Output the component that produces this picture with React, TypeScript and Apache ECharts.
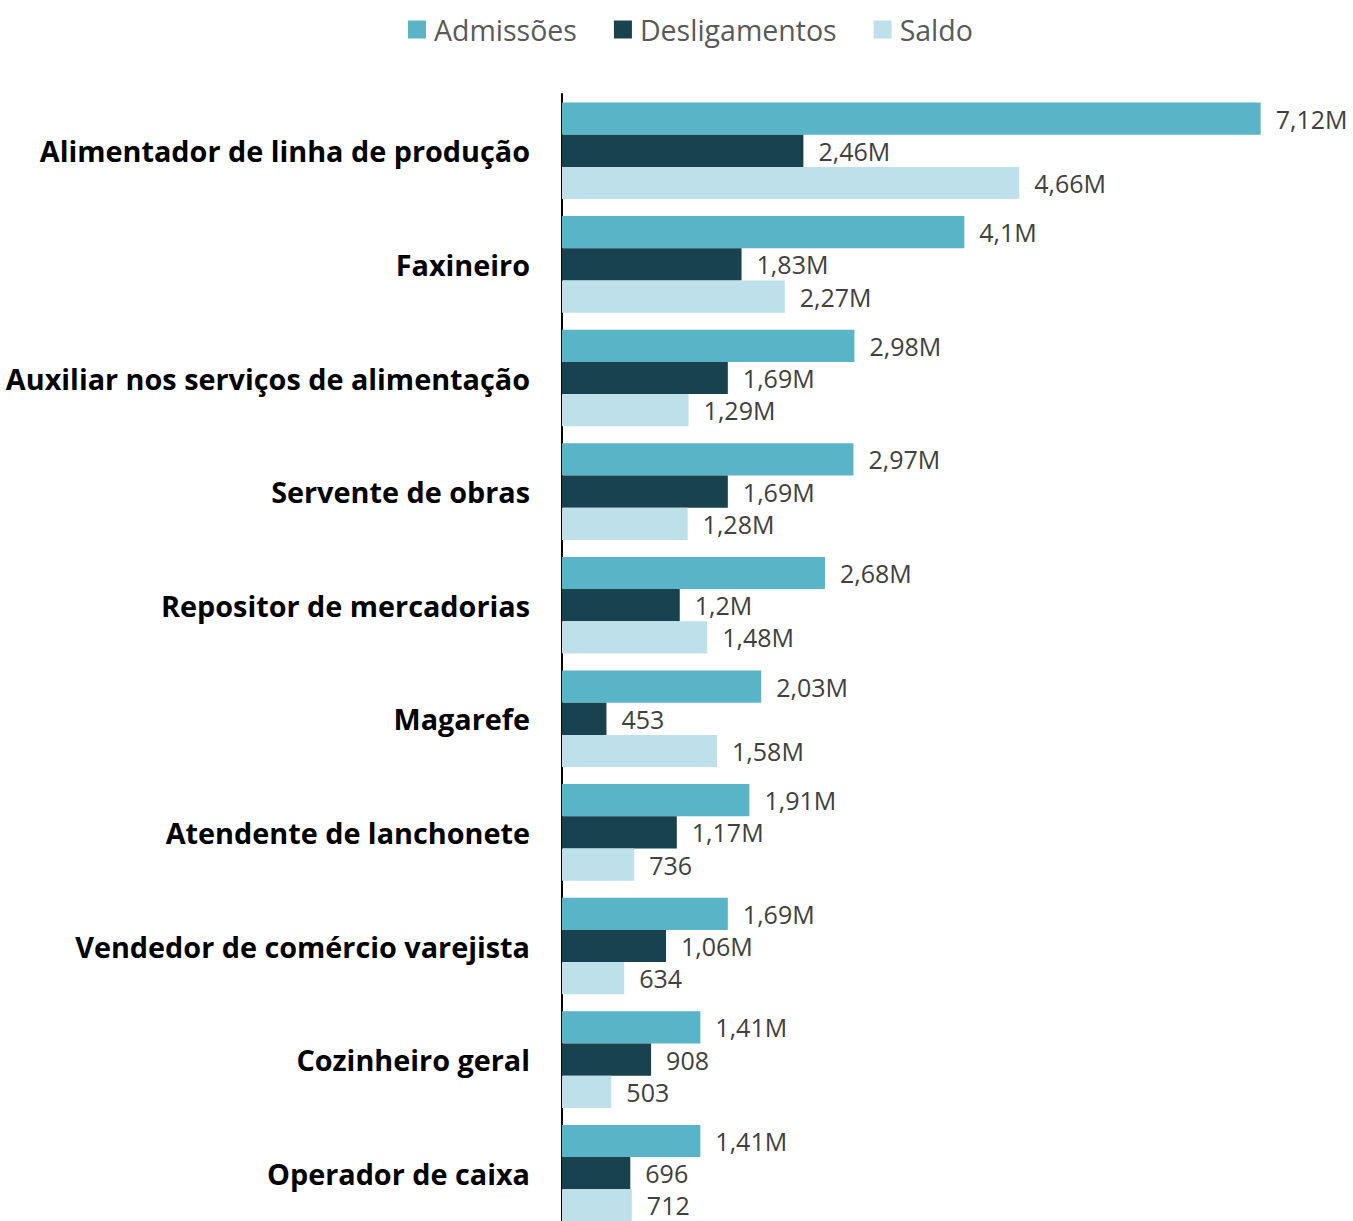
import React, { useEffect, useRef } from "react";
import * as echarts from "echarts";

const categories = [
  "Alimentador de linha de produção",
  "Faxineiro",
  "Auxiliar nos serviços de alimentação",
  "Servente de obras",
  "Repositor de mercadorias",
  "Magarefe",
  "Atendente de lanchonete",
  "Vendedor de comércio varejista",
  "Cozinheiro geral",
  "Operador de caixa",
];

// values in thousands
const admissoes = [7120, 4100, 2980, 2970, 2680, 2030, 1910, 1690, 1410, 1410];
const desligamentos = [2460, 1830, 1690, 1690, 1200, 453, 1170, 1060, 908, 696];
const saldo = [4660, 2270, 1290, 1280, 1480, 1580, 736, 634, 503, 712];

const seriesNames = ["Admissões", "Desligamentos", "Saldo"];
const colors = ["#5ab4c7", "#18434e", "#bde0ea"];

const FONT = "'Open Sans', 'Noto Sans', sans-serif";

function fmt(v: number): string {
  if (v >= 1000) {
    let s = (v / 1000).toFixed(2);
    s = s.replace(/0+$/, "").replace(/\.$/, "");
    return s.replace(".", ",") + "M";
  }
  return String(v);
}

export default function App() {
  const ref = useRef<HTMLDivElement>(null);
  useEffect(() => {
    if (!ref.current) return;
    const chart = echarts.init(ref.current, null, { renderer: "svg" });
    const dataSets = [admissoes, desligamentos, saldo];
    chart.setOption({
      animation: false,
      backgroundColor: "#ffffff",
      legend: {
        top: 10,
        left: 403,
        itemWidth: 18,
        itemHeight: 18,
        itemGap: 37,
        icon: "rect",
        textStyle: {
          fontFamily: FONT,
          fontSize: 28.5,
          color: "#595959",
          padding: [0, 0, 0, 3],
        },
        data: seriesNames,
      },
      grid: { left: 562, top: 94, width: 785, height: 1136, containLabel: false },
      xAxis: {
        type: "value",
        min: 0,
        max: 8000,
        show: false,
        splitLine: { show: false },
      },
      yAxis: {
        type: "category",
        inverse: true,
        data: categories,
        offset: 2,
        axisTick: { show: false },
        axisLine: { show: true, lineStyle: { color: "#000000", width: 2 } },
        axisLabel: {
          fontFamily: FONT,
          fontWeight: "bold",
          fontSize: 28.8,
          color: "#000000",
          margin: 30,
        },
      },
      series: seriesNames.map((name, i) => ({
        name,
        type: "bar",
        data: dataSets[i],
        barGap: "0%",
        barCategoryGap: "15%",
        itemStyle: { color: colors[i] },
        label: {
          show: true,
          position: "right",
          distance: 15,
          fontFamily: FONT,
          fontSize: 25,
          lineHeight: 26,
          color: "#404040",
          formatter: (p: any) => fmt(p.value),
        },
      })),
    });
    return () => chart.dispose();
  }, []);
  return (
    <div
      ref={ref}
      style={{ position: "fixed", left: 0, top: 0, width: 1353, height: 1240 }}
    />
  );
}
